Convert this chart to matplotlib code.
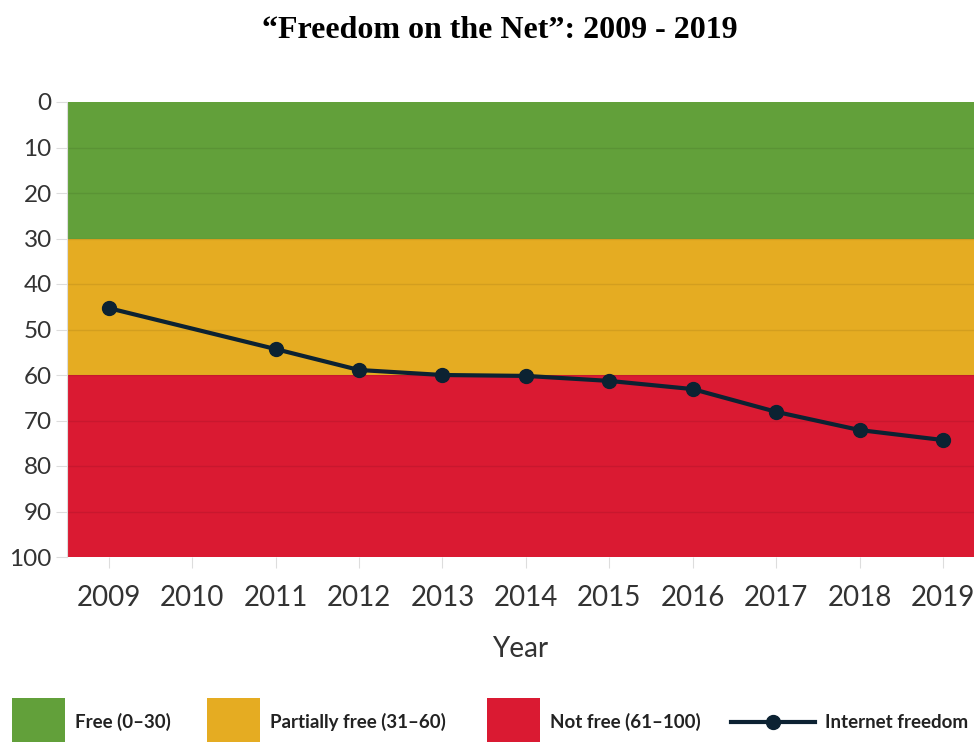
import matplotlib
matplotlib.use("Agg")
import matplotlib.pyplot as plt
from matplotlib.patches import Rectangle
from matplotlib.lines import Line2D

# data
years = [2009, 2011, 2012, 2013, 2014, 2015, 2016, 2017, 2018, 2019]
scores = [45.3, 54.3, 58.9, 60.0, 60.2, 61.3, 63.1, 68.1, 72.1, 74.3]
year_ticks = list(range(2009, 2020))
bands = [(0, 30), (30, 60), (60, 100)]
band_colors = ['#62a03a', '#e5ac22', '#da1a32']
band_labels = ['Free (0\u201330)', 'Partially free (31\u201360)', 'Not free (61\u2013100)']
line_label = 'Internet freedom'
line_color = '#0c2232'

plt.rcParams['font.family'] = ['Lato', 'DejaVu Sans']

fig = plt.figure(figsize=(9.74, 7.42), dpi=100)
ax = fig.add_axes([67 / 974, 1 - 557 / 742, 1 - 67 / 974, (557 - 102) / 742])

# coloured bands
for (lo, hi), c in zip(bands, band_colors):
    ax.axhspan(lo, hi, color=c, zorder=0, lw=0)

# faint grid over bands
for v in range(10, 100, 10):
    ax.axhline(v, color='black', alpha=0.08, lw=1, zorder=1)

ax.plot(years, scores, color=line_color, lw=3, marker='o', ms=10, zorder=3)

ax.set_ylim(100, 0)
ax.set_xlim(2008.5, 2019.37)
ax.set_yticks(range(0, 101, 10))
ax.set_xticks(year_ticks)
ax.tick_params(axis='both', colors='#dddddd', labelcolor='#333333', length=8)
ax.tick_params(axis='x', pad=12, labelsize=20)
ax.tick_params(axis='y', pad=3, labelsize=17.5)
for s in ['top', 'right', 'bottom']:
    ax.spines[s].set_visible(False)
ax.spines['left'].set_color('#dddddd')
ax.set_xlabel('Year', fontsize=20, color='#333333', labelpad=18)

fig.text(500 / 974, 1 - 31 / 742, '\u201cFreedom on the Net\u201d: 2009 - 2019', ha='center', va='center',
         fontsize=23, fontweight='bold', family='Liberation Serif')

# legend along the bottom
H = 742.0
W = 974.0
patch_x = [12, 207, 487]
for x0, c, lab in zip(patch_x, band_colors, band_labels):
    fig.add_artist(Rectangle((x0 / W, 0), 53 / W, 44 / H, color=c, transform=fig.transFigure, lw=0))
    fig.text((x0 + 63) / W, 1 - 722 / H, lab, fontsize=13.5, fontweight='bold', color='#222222',
             va='center', ha='left')
fig.add_artist(Line2D([731 / W, 815 / W], [1 - 722 / H, 1 - 722 / H], color=line_color, lw=3,
                      transform=fig.transFigure))
fig.add_artist(Line2D([773 / W], [1 - 722 / H], color=line_color, marker='o', ms=10,
                      transform=fig.transFigure))
fig.text(825 / W, 1 - 722 / H, line_label, fontsize=13.5, fontweight='bold', color='#222222',
         va='center', ha='left')

fig.savefig('out.png', dpi=100)
